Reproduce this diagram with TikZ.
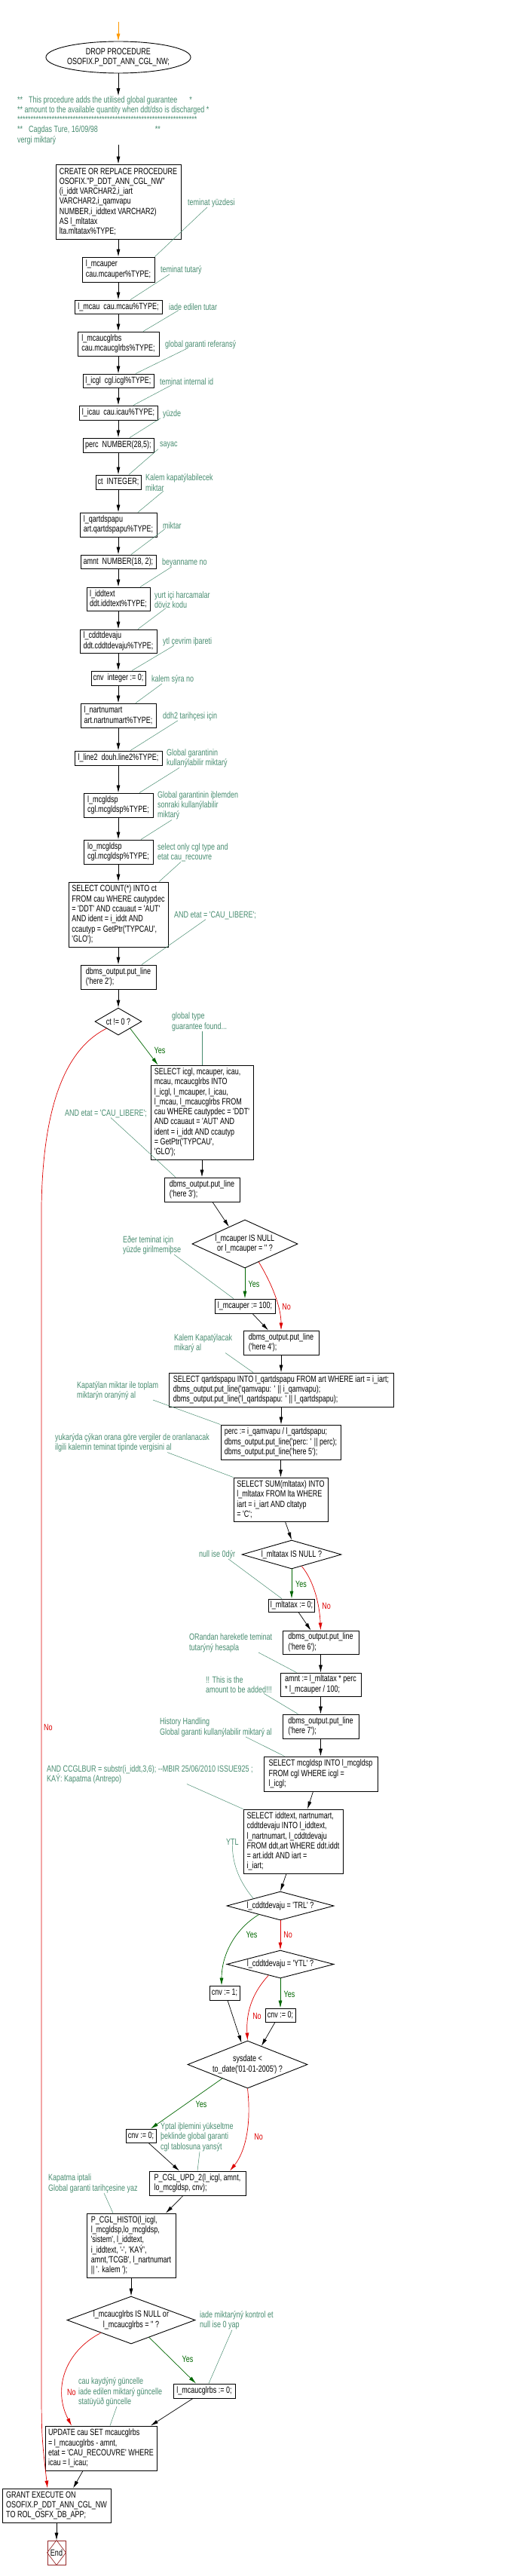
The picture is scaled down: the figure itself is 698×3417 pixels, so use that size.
\documentclass[tikz,border=0pt]{standalone}
\usepackage{fontspec}
\setmainfont{Liberation Sans}[Ligatures=TeXOff,FakeStretch=0.75]
\usetikzlibrary{shapes.geometric,arrows.meta,calc}

\definecolor{cmtgreen}{RGB}{72,140,112}
\definecolor{yesgreen}{RGB}{0,102,0}
\definecolor{nored}{RGB}{221,0,0}
\definecolor{finred}{RGB}{150,40,40}
\definecolor{startorange}{RGB}{255,153,0}

\begin{document}
\begin{tikzpicture}[x=1pt,y=-1pt,
    font=\fontsize{12}{13.3}\selectfont,
    blk/.style={draw,line width=0.9pt,align=left,inner xsep=2.5pt,inner ysep=0pt},
    cond/.style={diamond,draw,line width=0.9pt,align=center,inner sep=0pt},
    cmt/.style={text=cmtgreen,align=left,inner sep=0pt,anchor=west},
    lnk/.style={cmtgreen,line width=0.5pt},
    arr/.style={-{Latex[length=10pt,width=5pt]},line width=0.7pt},
    yespath/.style={arr,yesgreen},
    nopath/.style={arr,nored},
    yeslbl/.style={text=yesgreen,inner sep=0pt},
    nolbl/.style={text=nored,inner sep=0pt}]
    \useasboundingbox (0,0) rectangle (698,3417);

    % start of the procedure
    \coordinate (entry) at (157,29);
    \node[ellipse,draw,line width=0.9pt,inner sep=0pt,align=center,minimum width=150pt,minimum height=42pt] (start) at (157,76) {DROP PROCEDURE\\OSOFIX.P\_DDT\_ANN\_CGL\_NW;};
    \node[cmt] (hdr) at (23,159.5) {**\hspace{8pt}This procedure adds the utilised global guarantee\hspace{16pt}*\\
        ** amount to the available quantity when ddt/dso is discharged *\\
        ********************************************************************\\
        **\hspace{8pt}Cagdas Ture, 16/09/98\hspace{76pt}**\\
        vergi miktarý};

    % declarations
    \node[blk,minimum width=166pt,minimum height=99pt] (create) at (157,267.5) {CREATE OR REPLACE PROCEDURE\\OSOFIX."P\_DDT\_ANN\_CGL\_NW"\\(i\_iddt VARCHAR2,i\_iart\\VARCHAR2,i\_qamvapu\\NUMBER,i\_iddtext VARCHAR2)\\AS l\_mltatax\\lta.mltatax\%TYPE;};
    \node[blk,minimum width=96pt,minimum height=33pt] (mcauper) at (157,357.5) {l\_mcauper\\cau.mcauper\%TYPE;};
    \node[blk,minimum width=116pt,minimum height=18pt] (mcau) at (157,407) {l\_mcau\ \ cau.mcau\%TYPE;};
    \node[blk,minimum width=108pt,minimum height=32pt] (mcaucglrbs) at (157,456) {l\_mcaucglrbs\\cau.mcaucglrbs\%TYPE;};
    \node[blk,minimum width=94pt,minimum height=18pt] (icgl) at (157,505) {l\_icgl\ \ cgl.icgl\%TYPE;};
    \node[blk,minimum width=104pt,minimum height=19pt] (icau) at (157,547.5) {l\_icau\ \ cau.icau\%TYPE;};
    \node[blk,minimum width=94pt,minimum height=19pt] (perc) at (157,590.5) {perc\ \ NUMBER(28,5);};
    \node[blk,minimum width=60pt,minimum height=19pt] (ct) at (157,639.5) {ct\ \ INTEGER;};
    \node[blk,minimum width=102pt,minimum height=32pt] (qartdspapu) at (157,696) {l\_qartdspapu\\art.qartdspapu\%TYPE;};
    \node[blk,minimum width=100pt,minimum height=18pt] (amnt) at (157,745) {amnt\ \ NUMBER(18, 2);};
    \node[blk,minimum width=84pt,minimum height=31pt] (iddtext) at (157,794.5) {l\_iddtext\\ddt.iddtext\%TYPE;};
    \node[blk,minimum width=102pt,minimum height=31pt] (cddtdevaju) at (157,850.5) {l\_cddtdevaju\\ddt.cddtdevaju\%TYPE;};
    \node[blk,minimum width=72pt,minimum height=19pt] (cnv) at (157,899.5) {cnv\ \ integer := 0;};
    \node[blk,minimum width=100pt,minimum height=32pt] (nartnumart) at (157,949) {l\_nartnumart\\art.nartnumart\%TYPE;};
    \node[blk,minimum width=116pt,minimum height=19pt] (line2) at (157,1005.5) {l\_line2\ \ douh.line2\%TYPE;};
    \node[blk,minimum width=92pt,minimum height=32pt] (mcgldsp) at (157,1068) {l\_mcgldsp\\cgl.mcgldsp\%TYPE;};
    \node[blk,minimum width=92pt,minimum height=32pt] (lomcgldsp) at (157,1130) {lo\_mcgldsp\\cgl.mcgldsp\%TYPE;};
    \node[blk,minimum width=132pt,minimum height=86pt] (count) at (157,1213) {SELECT COUNT(*) INTO ct\\FROM cau WHERE cautypdec\\= 'DDT' AND ccauaut = 'AUT'\\AND ident = i\_iddt AND\\ccautyp = GetPtr('TYPCAU',\\'GLO');};
    \node[blk,minimum width=100pt,minimum height=32pt] (here2) at (157,1296) {dbms\_output.put\_line\\('here 2');};
    \node[cond,aspect=1.72,minimum width=62pt,minimum height=36pt] (ctdec) at (157,1355) {ct != 0 ?};

    % global guarantee found
    \node[blk,minimum width=136pt,minimum height=125pt] (selicgl) at (268,1475.5) {SELECT icgl, mcauper, icau,\\mcau, mcaucglrbs INTO\\l\_icgl, l\_mcauper, l\_icau,\\l\_mcau, l\_mcaucglrbs FROM\\cau WHERE cautypdec = 'DDT'\\AND ccauaut = 'AUT' AND\\ident = i\_iddt AND ccautyp\\= GetPtr('TYPCAU',\\'GLO');};
    \node[blk,minimum width=100pt,minimum height=32pt] (here3) at (268,1578) {dbms\_output.put\_line\\('here 3');};
    \node[cond,aspect=2.19,minimum width=140pt,minimum height=64pt] (mcauperdec) at (325,1650) {l\_mcauper IS NULL\\or l\_mcauper = '' ?};
    \node[blk,minimum width=80pt,minimum height=19pt] (mcauper100) at (325,1732.5) {l\_mcauper := 100;};
    \node[blk,minimum width=100pt,minimum height=32pt] (here4) at (373,1781) {dbms\_output.put\_line\\('here 4');};
    \node[blk,minimum width=298pt,minimum height=45pt] (selqart) at (373,1843.5) {SELECT qartdspapu INTO l\_qartdspapu FROM art WHERE iart = i\_iart;\\dbms\_output.put\_line('qamvapu: ' || i\_qamvapu);\\dbms\_output.put\_line('l\_qartdspapu: ' || l\_qartdspapu);};
    \node[blk,minimum width=159pt,minimum height=46pt] (percset) at (372.5,1913) {perc := i\_qamvapu / l\_qartdspapu;\\dbms\_output.put\_line('perc: ' || perc);\\dbms\_output.put\_line('here 5');};
    \node[blk,minimum width=125pt,minimum height=58pt] (selsum) at (372.5,1989) {SELECT SUM(mltatax) INTO\\l\_mltatax FROM lta WHERE\\iart = i\_iart AND cltatyp\\= 'C';};
    \node[cond,aspect=3.47,minimum width=132pt,minimum height=38pt] (mltataxdec) at (387,2062) {l\_mltatax IS NULL ?};
    \node[blk,minimum width=61pt,minimum height=17pt] (mltatax0) at (387,2129.5) {l\_mltatax := 0;};
    \node[blk,minimum width=101pt,minimum height=31pt] (here6) at (425.5,2178.5) {dbms\_output.put\_line\\('here 6');};
    \node[blk,minimum width=107pt,minimum height=31pt] (amntset) at (425.5,2234.5) {amnt := l\_mltatax * perc\\{}* l\_mcauper / 100;};
    \node[blk,minimum width=101pt,minimum height=32pt] (here7) at (425.5,2290) {dbms\_output.put\_line\\('here 7');};
    \node[blk,minimum width=151pt,minimum height=46pt] (selmcgl) at (425.5,2353) {SELECT mcgldsp INTO l\_mcgldsp\\FROM cgl WHERE icgl =\\l\_icgl;};
    \node[blk,minimum width=132pt,minimum height=85pt] (seliddtext) at (389,2442.5) {SELECT iddtext, nartnumart,\\cddtdevaju INTO l\_iddtext,\\l\_nartnumart, l\_cddtdevaju\\FROM ddt,art WHERE ddt.iddt\\= art.iddt AND iart =\\i\_iart;};
    \node[cond,aspect=3.74,minimum width=142pt,minimum height=38pt] (trldec) at (372,2528) {l\_cddtdevaju = 'TRL' ?};
    \node[cond,aspect=3.84,minimum width=142pt,minimum height=37pt] (ytldec) at (372,2605.5) {l\_cddtdevaju = 'YTL' ?};
    \node[blk,minimum width=40pt,minimum height=19pt] (cnv1) at (298,2643.5) {cnv := 1;};
    \node[blk,minimum width=40pt,minimum height=18pt] (cnv0) at (372,2673) {cnv := 0;};
    \node[cond,aspect=2.52,minimum width=159pt,minimum height=63pt] (sysdec) at (328.5,2738.5) {sysdate <\\to\_date('01-01-2005') ?};
    \node[blk,minimum width=40pt,minimum height=18pt] (cnv0b) at (187,2833) {cnv := 0;};
    \node[blk,minimum width=128pt,minimum height=32pt] (upd2) at (262,2896) {P\_CGL\_UPD\_2(l\_icgl, amnt,\\lo\_mcgldsp, cnv);};
    \node[blk,minimum width=118pt,minimum height=85pt] (histo) at (174,2978.5) {P\_CGL\_HISTO(l\_icgl,\\l\_mcgldsp,lo\_mcgldsp,\\'sistem', l\_iddtext,\\i\_iddtext, '-', 'KAÝ',\\amnt,'TCGB', l\_nartnumart\\|| '. kalem ');};
    \node[cond,aspect=2.7,minimum width=170pt,minimum height=63pt] (rbsdec) at (174,3077.5) {l\_mcaucglrbs IS NULL or\\l\_mcaucglrbs = '' ?};
    \node[blk,minimum width=82pt,minimum height=19pt] (rbs0) at (271,3171.5) {l\_mcaucglrbs := 0;};
    \node[blk,minimum width=148pt,minimum height=59pt] (update) at (134,3247.5) {UPDATE cau SET mcaucglrbs\\= l\_mcaucglrbs - amnt,\\etat = 'CAU\_RECOUVRE' WHERE\\icau = l\_icau;};
    \node[blk,minimum width=144pt,minimum height=45pt] (grant) at (75,3323.5) {GRANT EXECUTE ON\\OSOFIX.P\_DDT\_ANN\_CGL\_NW\\TO ROL\_OSFX\_DB\_APP;};
    \node[draw=finred,line width=0.9pt,minimum width=24pt,minimum height=32pt,inner sep=0pt] (fin) at (75,3386) {End};
    \draw[finred,line width=0.7pt] (fin.north) -- (fin.east) -- (fin.south) -- (fin.west) -- cycle;

    % comments
    \node[cmt] (t1) at (249,269) {teminat yüzdesi};
    \node[cmt] (t2) at (213,358) {teminat tutarý};
    \node[cmt] (t3) at (224,407) {iade edilen tutar};
    \node[cmt] (t4) at (219,457) {global garanti referansý};
    \node[cmt] (t5) at (212,506) {teminat internal id};
    \node[cmt] (t6) at (216,549) {yüzde};
    \node[cmt] (t7) at (212,591) {sayac};
    \node[cmt] (t8) at (193,640) {Kalem kapatýlabilecek\\miktar};
    \node[cmt] (t9) at (216,697) {miktar};
    \node[cmt] (t10) at (215,746) {beyanname no};
    \node[cmt] (t11) at (205,795.5) {yurt içi harcamalar\\döviz kodu};
    \node[cmt] (t12) at (216,851) {ytl çevrim iþareti};
    \node[cmt] (t13) at (201,901) {kalem sýra no};
    \node[cmt] (t14) at (216,950) {ddh2 tarihçesi için};
    \node[cmt] (t15) at (221,1006) {Global garantinin\\kullanýlabilir miktarý};
    \node[cmt] (t16) at (209,1068.5) {Global garantinin iþlemden\\sonraki kullanýlabilir\\miktarý};
    \node[cmt] (t17) at (209,1131) {select only cgl type and\\etat cau\_recouvre};
    \node[cmt] (t18) at (231,1214) {AND etat = 'CAU\_LIBERE';};
    \node[cmt] (t19) at (228,1355.5) {global type\\guarantee found...};
    \node[cmt] (t20) at (86,1477) {AND etat = 'CAU\_LIBERE';};
    \node[cmt] (t21) at (163,1651.5) {Eðer teminat için\\yüzde girilmemiþse};
    \node[cmt] (t22) at (231,1782) {Kalem Kapatýlacak\\mikarý al};
    \node[cmt] (t23) at (102,1844.5) {Kapatýlan miktar ile toplam\\miktarýn oranýný al};
    \node[cmt] (t24) at (73,1914) {yukarýda çýkan orana göre vergiler de oranlanacak\\ilgili kalemin teminat tipinde vergisini al};
    \node[cmt] (t25) at (264,2062) {null ise 0dýr};
    \node[cmt] (t26) at (251,2179.5) {ORandan hareketle teminat\\tutarýný hesapla};
    \node[cmt] (t27) at (273,2235) {!! This is the\\amount to be added!!!};
    \node[cmt] (t28) at (212,2291.5) {History Handling\\Global garanti kullanýlabilir miktarý al};
    \node[cmt] (t29) at (62,2354) {AND CCGLBUR = substr(i\_iddt,3,6); --MBIR 25/06/2010 ISSUE925 ;\\KAÝ: Kapatma (Antrepo)};
    \node[cmt] (t30) at (300,2443) {YTL};
    \node[cmt] (t31) at (213,2834) {Ýptal iþlemini yükseltme\\þeklinde global garanti\\cgl tablosuna yansýt};
    \node[cmt] (t32) at (64,2896.5) {Kapatma iptali\\Global garanti tarihçesine yaz};
    \node[cmt] (t33) at (265,3078) {iade miktarýný kontrol et\\null ise 0 yap};
    \node[cmt] (t34) at (104,3173) {cau kaydýný güncelle\\iade edilen miktarý güncelle\\statüyüð güncelle};

    % yes / no labels
    \node[yeslbl] (y1) at (212,1393) {Yes};
    \node[nolbl] (n1) at (64,2291) {No};
    \node[yeslbl] (y2) at (337,1703) {Yes};
    \node[nolbl] (n2) at (380,1733) {No};
    \node[yeslbl] (y3) at (399.5,2101) {Yes};
    \node[nolbl] (n3) at (433,2130) {No};
    \node[yeslbl] (y4) at (334,2566) {Yes};
    \node[nolbl] (n4) at (382,2566) {No};
    \node[yeslbl] (y5) at (384,2645) {Yes};
    \node[nolbl] (n5) at (341,2674) {No};
    \node[yeslbl] (y6) at (267,2791) {Yes};
    \node[nolbl] (n6) at (343,2834) {No};
    \node[yeslbl] (y7) at (249,3129) {Yes};
    \node[nolbl] (n7) at (95,3173) {No};

    % main flow
    \draw[arr,startorange] (entry) -- (start.north);
    \draw[arr] (start.south) -- (start.south |- hdr.north);
    \draw[arr] (start.south |- hdr.south) -- (create.north);
    \draw[arr] (create) -- (mcauper);
    \draw[arr] (mcauper) -- (mcau);
    \draw[arr] (mcau) -- (mcaucglrbs);
    \draw[arr] (mcaucglrbs) -- (icgl);
    \draw[arr] (icgl) -- (icau);
    \draw[arr] (icau) -- (perc);
    \draw[arr] (perc) -- (ct);
    \draw[arr] (ct) -- (qartdspapu);
    \draw[arr] (qartdspapu) -- (amnt);
    \draw[arr] (amnt) -- (iddtext);
    \draw[arr] (iddtext) -- (cddtdevaju);
    \draw[arr] (cddtdevaju) -- (cnv);
    \draw[arr] (cnv) -- (nartnumart);
    \draw[arr] (nartnumart) -- (line2);
    \draw[arr] (line2) -- (mcgldsp);
    \draw[arr] (mcgldsp) -- (lomcgldsp);
    \draw[arr] (lomcgldsp) -- (count);
    \draw[arr] (count) -- (here2);
    \draw[arr] (here2) -- (ctdec);
    \draw[yespath] (ctdec.south east) -- ([xshift=10pt]selicgl.north west);
    \draw[nopath] (ctdec.south west) .. controls (90,1390) and (57,1460) .. (55,1600) -- (55,3150) .. controls (55,3230) .. ([xshift=-12pt]grant.north);
    \draw[arr] (selicgl) -- (here3);
    \draw[arr] ([xshift=14pt]here3.south) -- ($(mcauperdec.north)!.3!(mcauperdec.west)$);
    \draw[yespath] (mcauperdec.south) -- (mcauper100.north);
    \draw[nopath] ($(mcauperdec.south)!.26!(mcauperdec.east)$) .. controls (362,1705) and (373,1735) .. (here4.north);
    \draw[arr] ([xshift=10pt]mcauper100.south) -- ([xshift=-17pt]here4.north);
    \draw[arr] (here4) -- (selqart);
    \draw[arr] (selqart.south) -- (selqart.south |- percset.north);
    \draw[arr] (percset) -- (selsum);
    \draw[arr] ([xshift=6pt]selsum.south) -- (mltataxdec.north);
    \draw[yespath] (mltataxdec.south) -- (mltatax0.north);
    \draw[nopath] ($(mltataxdec.south)!.2!(mltataxdec.east)$) .. controls (415,2095) and (424,2125) .. (here6.north);
    \draw[arr] ([xshift=9pt]mltatax0.south) -- ([xshift=-13pt]here6.north);
    \draw[arr] (here6) -- (amntset);
    \draw[arr] (amntset) -- (here7);
    \draw[arr] (here7) -- (selmcgl);
    \draw[arr] ([xshift=-10pt]selmcgl.south) -- ([xshift=19pt]seliddtext.north);
    \draw[arr] ([xshift=-9pt]seliddtext.south) -- (trldec.north);
    \draw[yespath] ($(trldec.south)!.4!(trldec.west)$) .. controls (310,2560) and (294,2595) .. ([xshift=-4pt]cnv1.north);
    \draw[nopath] (trldec) -- (ytldec);
    \draw[yespath] (ytldec) -- (cnv0);
    \draw[nopath] ($(ytldec.south)!.22!(ytldec.west)$) .. controls (338,2640) and (326,2665) .. (sysdec.north);
    \draw[arr] ([xshift=4pt]cnv1.south) -- ($(sysdec.north)!.1!(sysdec.west)$);
    \draw[arr] ([xshift=-7pt]cnv0.south) -- ($(sysdec.north)!.23!(sysdec.east)$);
    \draw[yespath] ($(sysdec.south)!.42!(sysdec.west)$) -- ([xshift=13pt]cnv0b.north);
    \draw[nopath] (sysdec.south) .. controls (334,2820) and (325,2855) .. ([xshift=43pt]upd2.north);
    \draw[arr] ([xshift=10pt]cnv0b.south) -- ([xshift=-24pt]upd2.north);
    \draw[arr] ([xshift=-19pt]upd2.south) -- ([xshift=46pt]histo.north);
    \draw[arr] (histo) -- (rbsdec);
    \draw[yespath] ($(rbsdec.south)!.28!(rbsdec.east)$) -- ([xshift=-11pt]rbs0.north);
    \draw[nopath] ($(rbsdec.south)!.47!(rbsdec.west)$) .. controls (85,3120) and (70,3170) .. ([xshift=-39pt]update.north);
    \draw[arr] ([xshift=-15pt]rbs0.south) -- ([xshift=66pt]update.north);
    \draw[arr] ([xshift=-24pt]update.south) -- ([xshift=22pt]grant.north);
    \draw[arr] (grant) -- (fin);

    % comment links
    \draw[lnk] ([xshift=26pt]t1.south west) -- (mcauper.north east);
    \draw[lnk] ([xshift=12pt]t2.south west) -- ([xshift=16pt]mcau.north);
    \draw[lnk] ([xshift=13pt]t3.south west) -- ([xshift=33pt]mcaucglrbs.north);
    \draw[lnk] ([xshift=28pt]t4.south west) -- ([xshift=23pt]icgl.north);
    \draw[lnk] ([xshift=16pt]t5.south west) -- ([xshift=20pt]icau.north);
    \draw[lnk] ([xshift=-3pt]t6.south west) -- ([xshift=15pt]perc.north);
    \draw[lnk] ([xshift=-2pt]t7.south west) -- ([xshift=14pt]ct.north);
    \draw[lnk] ([xshift=24pt]t8.south west) -- ([xshift=26pt]qartdspapu.north);
    \draw[lnk] ([xshift=3pt]t9.south west) -- ([xshift=17pt]amnt.north);
    \draw[lnk] ([xshift=13pt]t10.south west) -- ([xshift=29pt]iddtext.north);
    \draw[lnk] ([xshift=15pt]t11.south west) -- ([xshift=26pt]cddtdevaju.north);
    \draw[lnk] ([xshift=14pt]t12.south west) -- ([xshift=18pt]cnv.north);
    \draw[lnk] ([xshift=14pt]t13.south west) -- ([xshift=23pt]nartnumart.north);
    \draw[lnk] ([xshift=20pt]t14.south west) -- ([xshift=16pt]line2.north);
    \draw[lnk] ([xshift=17pt]t15.south west) -- ([xshift=28pt]mcgldsp.north);
    \draw[lnk] ([xshift=19pt]t16.south west) -- ([xshift=30pt]lomcgldsp.north);
    \draw[lnk] ([xshift=31pt]t17.south west) -- ([xshift=54pt]count.north);
    \draw[lnk] ([xshift=42pt]t18.south west) -- ([xshift=31pt]here2.north);
    \draw[lnk] (t19.south -| selicgl.north) -- (selicgl.north);
    \draw[lnk] ([xshift=61pt]t20.south west) -- ([xshift=-35pt]here3.north);
    \draw[lnk] ([xshift=68pt]t21.south west) -- ([xshift=-15pt]mcauper100.north);
    \draw[lnk] ([xshift=68pt]t22.south west) -- ([xshift=-37pt]selqart.north);
    \draw[lnk] ([xshift=101pt]t23.south west) -- (percset.north west);
    \draw[lnk] ([xshift=149pt]t24.south west) -- (selsum.north west);
    \draw[lnk] ([xshift=39pt]t25.south west) -- ([xshift=-13pt]mltatax0.north);
    \draw[lnk] ([xshift=92pt]t26.south west) -- ([xshift=-32pt]amntset.north);
    \draw[lnk] ([xshift=77pt]t27.south west) -- ([xshift=-30pt]here7.north);
    \draw[lnk] ([xshift=114pt]t28.south west) -- ([xshift=-48pt]selmcgl.north);
    \draw[lnk] ([xshift=186pt]t29.south west) -- (seliddtext.north west);
    \draw[lnk] (t30.south) .. controls (308,2480) and (325,2505) .. (trldec.north west);
    \draw[lnk] ([xshift=52pt]t31.south west) -- (upd2.north);
    \draw[lnk] ([xshift=74pt]t32.south west) -- ([xshift=-24pt]histo.north);
    \draw[lnk] ([xshift=43pt]t33.south west) -- ([xshift=6pt]rbs0.north);
    \draw[lnk] ([xshift=51pt]t34.south west) -- ([xshift=12pt]update.north);
\end{tikzpicture}
\end{document}
